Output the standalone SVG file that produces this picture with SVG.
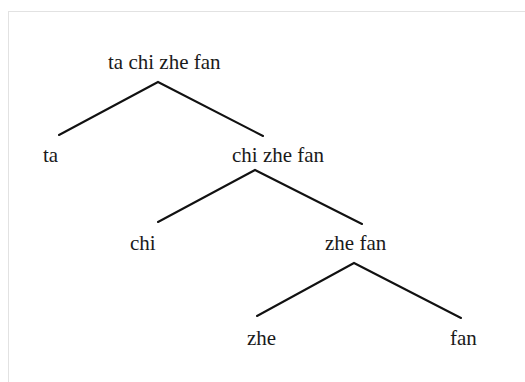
<svg xmlns="http://www.w3.org/2000/svg" width="525" height="382" viewBox="0 0 525 382">
  <style>
    .lbl { font-family: "Liberation Serif", "Times New Roman", serif; font-size: 21px; fill: #1a1a1a; }
    .edge { stroke: #111; stroke-width: 2; fill: none; stroke-linecap: round; }
  </style>
  <rect x="0" y="0" width="525" height="382" fill="#ffffff"/>
  <!-- frame -->
  <rect x="8.5" y="11.5" width="530" height="390" fill="none" stroke="#e2e2e2" stroke-width="1"/>

  <g id="connectors">
    <polyline class="edge" points="59,135 158,82 263,136"/>
    <polyline class="edge" points="158,222 255,170 362,224"/>
    <polyline class="edge" points="257,316 354,263 461,318"/>
  </g>

  <g id="node-root"><text class="lbl" x="108" y="69">ta chi zhe fan</text></g>
  <g id="node-ta"><text class="lbl" x="43" y="162">ta</text></g>
  <g id="node-chi-zhe-fan"><text class="lbl" x="232" y="162">chi zhe fan</text></g>
  <g id="node-chi"><text class="lbl" x="130" y="250">chi</text></g>
  <g id="node-zhe-fan"><text class="lbl" x="325" y="250">zhe fan</text></g>
  <g id="node-zhe"><text class="lbl" x="247" y="345">zhe</text></g>
  <g id="node-fan"><text class="lbl" x="450" y="345">fan</text></g>
</svg>
